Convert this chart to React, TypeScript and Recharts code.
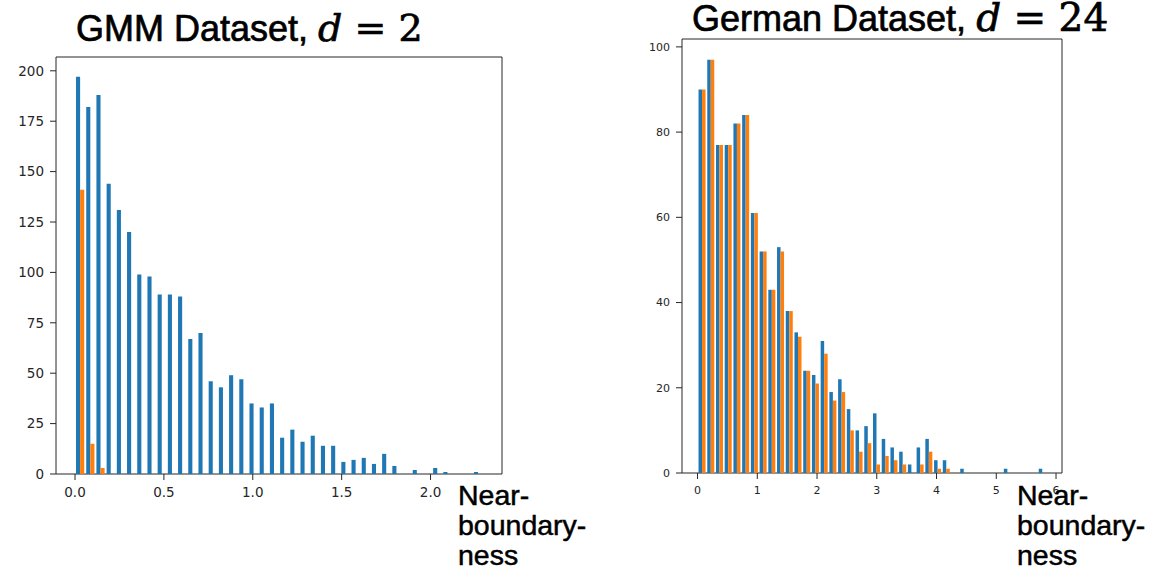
import { BarChart, Bar, XAxis, YAxis, ReferenceArea } from 'recharts';

// GMM dataset histogram, 40 bins starting at 0
const gmmBinWidth = 0.0574;
const gmmBlue = [197, 182, 188, 144, 131, 120, 99, 98, 89, 89, 88, 67, 70, 46, 43, 49, 47, 35, 33, 35,
  18, 22, 16, 19, 14, 14, 6, 7, 8, 5, 10, 4, 0, 2, 0, 3, 1, 0, 0, 1];
const gmmOrange = [141, 15, 3, 0, 0, 0, 0, 0, 0, 0, 0, 0, 0, 0, 0, 0, 0, 0, 0, 0,
  0, 0, 0, 0, 0, 0, 0, 0, 0, 0, 0, 0, 0, 0, 0, 0, 0, 0, 0, 0];
const gmmXTicks = [0, 0.5, 1, 1.5, 2];
const gmmYTicks = [0, 25, 50, 75, 100, 125, 150, 175, 200];

// German dataset histogram, 40 bins starting at 0
const germanBinWidth = 0.146;
const germanBlue = [90, 97, 77, 77, 82, 84, 61, 52, 43, 53, 38, 33, 24, 23, 31, 19, 22, 15, 10, 11,
  14, 8, 6, 5, 2, 6, 8, 3, 3, 0, 1, 0, 0, 0, 0, 1, 0, 0, 0, 1];
const germanOrange = [90, 97, 77, 77, 82, 84, 61, 52, 43, 52, 38, 32, 24, 21, 28, 17, 19, 10, 5, 7,
  2, 4, 3, 2, 0, 2, 5, 1, 1, 0, 0, 0, 0, 0, 0, 0, 0, 0, 0, 0];
const germanXTicks = [0, 1, 2, 3, 4, 5, 6];
const germanYTicks = [0, 20, 40, 60, 80, 100];

const BLUE = '#1f77b4';
const ORANGE = '#ff7f0e';
const INK = '#262626';

const toRows = (blue: number[], orange: number[], w: number) =>
  blue.map((b, i) => ({ x: (i + 0.5) * w, blue: b, orange: orange[i] }));

interface HistProps {
  data: { x: number; blue: number; orange: number }[];
  width: number;
  height: number;
  top: number;
  right: number;
  yAxisWidth: number;
  xAxisHeight: number;
  xDomain: [number, number];
  yDomain: [number, number];
  xTicks: number[];
  yTicks: number[];
  xFormat: (v: number) => string;
  barSize: number;
  fontSize: number;
}

function Hist({ data, width, height, top, right, yAxisWidth, xAxisHeight, xDomain, yDomain, xTicks, yTicks, xFormat, barSize, fontSize }: HistProps) {
  const tickStyle = { fill: INK, fontSize, fontFamily: 'DejaVu Sans' };
  return (
    <BarChart width={width} height={height} data={data}
      margin={{ top, right, left: 0, bottom: 0 }} barGap={0}>
      <XAxis dataKey="x" type="number" domain={xDomain} ticks={xTicks} allowDataOverflow
        height={xAxisHeight} axisLine={false} tickSize={6} tickMargin={7}
        tick={tickStyle} tickLine={{ stroke: INK }} tickFormatter={xFormat} interval={0} />
      <YAxis type="number" domain={yDomain} ticks={yTicks} allowDataOverflow
        width={yAxisWidth} axisLine={false} tickSize={6} tickMargin={6}
        tick={tickStyle} tickLine={{ stroke: INK }} interval={0} />
      <Bar dataKey="blue" fill={BLUE} barSize={barSize} isAnimationActive={false} />
      <Bar dataKey="orange" fill={ORANGE} barSize={barSize} isAnimationActive={false} />
      <ReferenceArea x1={xDomain[0]} x2={xDomain[1]} y1={yDomain[0]} y2={yDomain[1]}
        fill="none" stroke={INK} strokeWidth={1} fillOpacity={0} />
    </BarChart>
  );
}

const sans = '"Liberation Sans", Arial, sans-serif';
const serif = '"DejaVu Serif", serif';

export default function App() {
  const gmmRows = toRows(gmmBlue, gmmOrange, gmmBinWidth);
  const germanRows = toRows(germanBlue, germanOrange, germanBinWidth);
  return (
    <div style={{ position: 'absolute', left: 0, top: 0, width: 1153, height: 572, background: '#fff', overflow: 'hidden' }}>
      <div style={{ position: 'absolute', left: 0, top: 0 }}>
        <Hist data={gmmRows} width={560} height={520} top={57} right={58}
          yAxisWidth={56} xAxisHeight={46}
          xDomain={[-0.107, 2.402]} yDomain={[0, 206.85]}
          xTicks={gmmXTicks} yTicks={gmmYTicks} xFormat={v => v.toFixed(1)}
          barSize={4.1} fontSize={13.5} />
      </div>
      <div style={{ position: 'absolute', left: 600, top: 0 }}>
        <Hist data={germanRows} width={500} height={520} top={39} right={38}
          yAxisWidth={82} xAxisHeight={47}
          xDomain={[-0.26, 6.1]} yDomain={[0, 101.85]}
          xTicks={germanXTicks} yTicks={germanYTicks} xFormat={v => String(v)}
          barSize={3.5} fontSize={11} />
      </div>
      <svg width={1153} height={572} style={{ position: 'absolute', left: 0, top: 0, pointerEvents: 'none' }}>
        <g fill="#000" stroke="#000" strokeWidth={0.7}>
          <text x={76} y={41} fontFamily={sans} fontSize={36}>
            GMM Dataset, <tspan fontFamily={serif} fontStyle="italic" fontSize={38}>d</tspan>
            <tspan fontFamily={serif} fontSize={38}> = 2</tspan>
          </text>
          <text x={692} y={31} fontFamily={sans} fontSize={36}>
            German Dataset, <tspan fontFamily={serif} fontStyle="italic" fontSize={39}>d</tspan>
            <tspan fontFamily={serif} fontSize={39}> = 24</tspan>
          </text>
        </g>
        <g fontFamily={sans} fontSize={28.5} fill="#000" stroke="#000" strokeWidth={0.5}>
          <text x={458} y={505}>Near-</text>
          <text x={458} y={535}>boundary-</text>
          <text x={458} y={565}>ness</text>
          <text x={1017} y={505}>Near-</text>
          <text x={1017} y={535}>boundary-</text>
          <text x={1017} y={565}>ness</text>
        </g>
      </svg>
    </div>
  );
}
